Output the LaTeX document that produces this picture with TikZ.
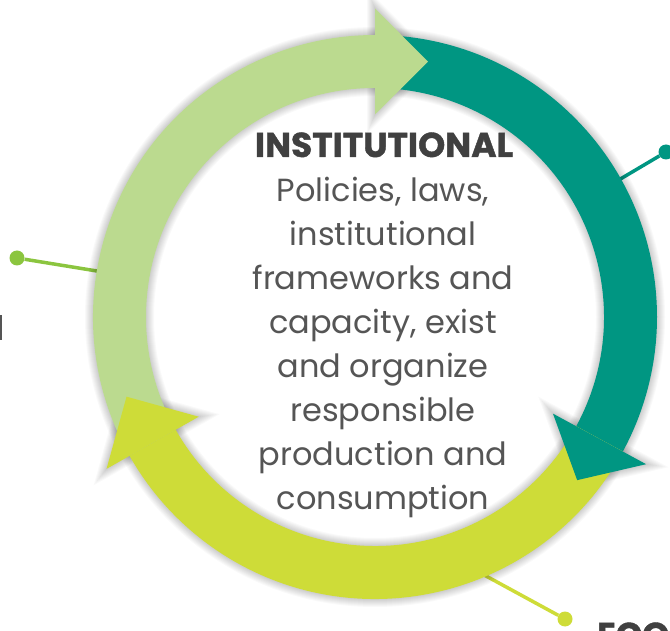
\documentclass[tikz,border=0pt]{standalone}
\usepackage{fontspec}
\setmainfont{Poppins}
\definecolor{leaf}{RGB}{187,218,143}
\definecolor{sea}{RGB}{0,150,130}
\definecolor{lime}{RGB}{206,220,56}
\definecolor{grass}{RGB}{139,197,63}
\definecolor{txt}{RGB}{85,85,85}
\definecolor{head}{RGB}{64,64,64}
\tikzset{
  dot/.style={circle, inner sep=0pt, minimum size=15pt},
  link/.style={line width=3.5pt},
  bodytext/.style={font=\fontsize{32}{44}\selectfont, text=txt, inner sep=0pt, anchor=base},
  titletext/.style={font=\bfseries\fontsize{34.5}{40}\selectfont\addfontfeatures{FakeBold=1.2}, text=head, inner sep=0pt, anchor=base},
  soft/.style={black, opacity=0.022},
}
\begin{document}
\begin{tikzpicture}[x=1pt,y=1pt]
\useasboundingbox (0,0) rectangle (670,630);
\fill[white] (0,0) rectangle (670,630);
\coordinate (C) at (375,313);

% anchor points on the outer rim of the ring
\begin{scope}[shift={(C)}]
  \coordinate (pL) at (170.6:270);
  \coordinate (pR) at (29.3:270);
  \coordinate (pB) at (-68.8:270);
\end{scope}

% call-out connectors (behind the ring)
\node[dot, fill=grass] (dL) at (17,372) {};
\node[dot, fill=sea] (dR) at (666,478) {};
\node[dot, fill=lime] (dB) at (565,11) {};
\draw[link, grass] (dL) -- (pL);
\draw[link, sea] (dR) -- (pR);
\draw[link, lime] (dB) -- (pB);

\begin{scope}[shift={(C)}]
  % soft shadow of the ring and arrow heads
  \foreach \w in {2,4,...,16} {
    \draw[soft, line width={53+\w}] (0,0) circle[radius=255.5];
    \draw[soft, line width=\w, line join=miter] (90:308.5) -- (78.28:260.94) -- (90:202.5) -- cycle;
    \draw[soft, line width=\w, line join=miter] (-28.5:308.5) -- (-38.9:259.8) -- (-28.5:202.5) -- cycle;
    \draw[soft, line width=\w, line join=miter] (209.5:308.5) -- (197.78:260.94) -- (209.5:202.5) -- cycle;
  }
  % arrow bodies
  \fill[leaf] (209.5:282) arc[start angle=209.5, end angle=90, radius=282]
     -- (90:229) arc[start angle=90, end angle=209.5, radius=229] -- cycle;
  \fill[sea] (90:282) arc[start angle=90, end angle=-28.5, radius=282]
     -- (-28.5:229) arc[start angle=-28.5, end angle=90, radius=229] -- cycle;
  \fill[lime] (-28.5:282) arc[start angle=-28.5, end angle=-150.5, radius=282]
     -- (-150.5:229) arc[start angle=-150.5, end angle=-28.5, radius=229] -- cycle;
  % arrow heads
  \fill[leaf] (90:308.5) -- (78.28:260.94) -- (90:202.5) -- cycle;
  \fill[sea] (-28.5:308.5) -- (-38.9:259.8) -- (-28.5:202.5) -- cycle;
  \fill[lime] (209.5:308.5) -- (197.78:260.94) -- (209.5:202.5) -- cycle;
\end{scope}

% centre text
\node[titletext] (t0) at (384,473) {INSTITUTIONAL};
\node[bodytext] (t1) at (383,428) {Policies, laws,};
\node[bodytext] (t2) at (383,384) {institutional};
\node[bodytext] (t3) at (383,340) {frameworks and};
\node[bodytext] (t4) at (383,296) {capacity, exist};
\node[bodytext] (t5) at (383,252) {and organize};
\node[bodytext] (t6) at (383,208) {responsible};
\node[bodytext] (t7) at (383,164) {production and};
\node[bodytext] (t8) at (383,120) {consumption};

% neighbouring labels cut by the frame
\fill[txt] (0,290) rectangle (1.7,315);
\node[titletext, anchor=base west] (eco) at (597,-17) {ECO};
\end{tikzpicture}
\end{document}
